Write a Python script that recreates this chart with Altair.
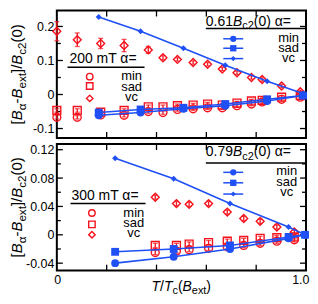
import altair as alt
import pandas as pd

# ---------------- data ----------------
# upper panel: 200 mT (red, open symbols) and 0.61 Bc2(0) (blue, lines)
x_200 = [0.0, 0.082, 0.176, 0.270, 0.367, 0.426, 0.484, 0.547, 0.605, 0.664, 0.723, 0.781, 0.824, 0.902, 0.977]
min_200 = [-0.067, -0.067, -0.060, -0.061, -0.050, -0.053, -0.044, -0.042, -0.039, -0.039, -0.033, -0.028, -0.022, -0.014, -0.008]
sad_200 = [-0.047, -0.047, -0.052, -0.047, -0.036, -0.036, -0.033, -0.031, -0.028, -0.031, -0.025, -0.019, -0.017, -0.008, -0.003]
vc_200 = [0.186, 0.161, 0.150, 0.144, 0.131, 0.108, 0.103, 0.094, 0.089, 0.075, 0.064, 0.050, 0.044, 0.025, 0.008]
err_vc_200 = [0.028, 0.020, 0.015, 0.018, 0.010, 0.006, 0.005, 0.005, 0.005, 0.005, 0.005, 0.005, 0.005, 0.005, 0.005]
err_200 = [0.005, 0.005, 0.005, 0.005, 0.005, 0.005, 0.005, 0.005, 0.005, 0.005, 0.005, 0.005, 0.005, 0.005, 0.005]

x_061 = [0.168, 0.336, 0.508, 0.676, 0.844, 0.988]
min_061 = [-0.061, -0.053, -0.042, -0.033, -0.019, -0.003]
sad_061 = [-0.053, -0.044, -0.039, -0.028, -0.014, -0.003]
vc_061 = [0.228, 0.186, 0.136, 0.086, 0.039, 0.003]

# lower panel: 300 mT (red) and 0.79 Bc2(0) (blue)
x_300 = [0.395, 0.480, 0.531, 0.609, 0.684, 0.750, 0.816, 0.883, 0.953]
min_300 = [-0.025, -0.023, -0.021, -0.019, -0.017, -0.015, -0.012, -0.009, -0.007]
sad_300 = [-0.015, -0.015, -0.013, -0.011, -0.009, -0.008, -0.005, -0.004, -0.003]
vc_300 = [0.053, 0.044, 0.043, 0.044, 0.032, 0.023, 0.019, 0.011, 0.004]
err_300 = [0.003, 0.003, 0.003, 0.003, 0.003, 0.003, 0.003, 0.003, 0.003]

x_079 = [0.234, 0.469, 0.695, 0.930, 0.996]
min_079 = [-0.040, -0.031, -0.020, -0.005, 0.0]
sad_079 = [-0.024, -0.020, -0.015, -0.003, 0.0]
vc_079 = [0.108, 0.079, 0.044, 0.011, 0.0]

series = ["min", "sad", "vc"]
top_major = [-0.1, 0.0, 0.1, 0.2]
top_minor = [-0.05, 0.05, 0.15]
bot_major = [-0.04, 0.0, 0.04, 0.08, 0.12]
bot_minor = [-0.02, 0.02, 0.06, 0.10]
x_major = [0.2, 0.4, 0.6, 0.8]
x_labels = [0, 1]

# ---------------- style ----------------
FONT = "Liberation Sans"
RED = "#f4121c"
BLUE = "#1f50f5"
W = 250
H1 = 128
H2 = 127
TITLE_SIZE = 15

CW = {" ": 278, "[": 278, "]": 278, "/": 278, "(": 333, ")": 333, "-": 333, "=": 584,
      ".": 278, "B": 667, "T": 611, "m": 833, "e": 556, "x": 500, "t": 278, "c": 500,
      "α": 578, "i": 222, "n": 556, "s": 500, "a": 556, "d": 556, "v": 500}


def tw(s, size):
    return sum(CW.get(c, 556) for c in s) * size / 1000.0


one = pd.DataFrame({"d": [0]})


def rich_len(parts, size):
    return sum(tw(t, size * 0.78 if st == "sub" else size) for t, st in parts)


def rich(parts, x0, y0, size, angle=0):
    layers = []
    pos = 0.0
    for txt, st in parts:
        fs = size * 0.78 if st == "sub" else size
        shift = size * 0.27 if st == "sub" else 0.0
        if angle == 0:
            x, y = x0 + pos, y0 + shift
        else:
            x, y = x0 + shift, y0 - pos
        layers.append(
            alt.Chart(one).mark_text(
                text=txt, align="left", baseline="alphabetic", font=FONT, fontSize=fs,
                fontStyle="italic" if st == "i" else "normal", angle=angle, color="black",
            ).encode(x=alt.value(x), y=alt.value(y))
        )
        pos += tw(txt, fs)
    return layers


def red_df(x, mn, sd, vc, e_mn, e_sd, e_vc):
    rows = []
    for name, ys, es in (("min", mn, e_mn), ("sad", sd, e_sd), ("vc", vc, e_vc)):
        for xi, yi, ei in zip(x, ys, es):
            rows.append({"x": xi, "y": yi, "lo": yi - ei, "hi": yi + ei, "s": name})
    return pd.DataFrame(rows)


def blue_df(x, mn, sd, vc):
    rows = []
    for name, ys in (("min", mn), ("sad", sd), ("vc", vc)):
        for xi, yi in zip(x, ys):
            rows.append({"x": xi, "y": yi, "s": name})
    return pd.DataFrame(rows)


SHAPES = alt.Scale(domain=series, range=["circle", "square", "diamond"])


def panel(H, ydom, ymaj, ymin_, show_x, rdf, bdf, red_head, blue_head, L):
    xs = alt.Scale(domain=[0, 1], nice=False, zero=False)
    ys = alt.Scale(domain=ydom, nice=False, zero=False)
    if show_x:
        xaxis = alt.Axis(values=x_labels, labelExpr="datum.value == 1 ? '1.0' : '0'", ticks=False,
                         domain=False, grid=False, labelPadding=3, labelFlush=True, labelFlushOffset=3,
                         title=None, labelFontSize=12.5, labelFont=FONT)
    else:
        xaxis = None
    yaxis = alt.Axis(values=ymaj, ticks=False, domain=False, grid=False, labelPadding=3, title=None,
                     labelExpr="datum.value < 0 ? '-' + format(-datum.value, '~g') : format(datum.value, '~g')",
                     labelFontSize=12.5, labelFont=FONT)

    def X(f):
        return alt.X(f, type="quantitative", scale=xs, axis=xaxis)

    def Y(f):
        return alt.Y(f, type="quantitative", scale=ys, axis=yaxis)

    layers = []
    # inward ticks on all four sides
    for vals, ln in ((ymaj, 6), (ymin_, 4)):
        d = pd.DataFrame({"v": vals})
        layers.append(alt.Chart(d).mark_rule(color="black", strokeWidth=1.3).encode(
            y=Y("v"), x=alt.value(0), x2=alt.value(ln)))
        layers.append(alt.Chart(d).mark_rule(color="black", strokeWidth=1.3).encode(
            y=Y("v"), x=alt.value(W - ln), x2=alt.value(W)))
    dx = pd.DataFrame({"v": x_major})
    layers.append(alt.Chart(dx).mark_rule(color="black", strokeWidth=1.3).encode(
        x=X("v"), y=alt.value(H), y2=alt.value(H - 6)))
    layers.append(alt.Chart(dx).mark_rule(color="black", strokeWidth=1.3).encode(
        x=X("v"), y=alt.value(0), y2=alt.value(6)))

    # red data with error bars
    layers.append(alt.Chart(rdf).mark_rule(color=RED, strokeWidth=1.3).encode(
        x=X("x"), y=Y("lo"), y2="hi"))
    for col in ("lo", "hi"):
        layers.append(alt.Chart(rdf).mark_tick(color=RED, orient="horizontal", size=5, thickness=1.3).encode(
            x=X("x"), y=Y(col)))
    layers.append(alt.Chart(rdf).mark_point(filled=False, color=RED, size=62, strokeWidth=1.4, opacity=1).encode(
        x=X("x"), y=Y("y"), shape=alt.Shape("s:N", scale=SHAPES, legend=None)))

    # blue lines
    layers.append(alt.Chart(bdf).mark_line(color=BLUE, strokeWidth=1.6).encode(
        x=X("x"), y=Y("y"), detail="s:N"))
    for name, shp, sz in (("min", "circle", 62), ("sad", "square", 62), ("vc", "diamond", 36)):
        layers.append(alt.Chart(bdf[bdf.s == name]).mark_point(
            filled=True, color=BLUE, shape=shp, size=sz, opacity=1).encode(x=X("x"), y=Y("y")))

    # ---- red legend ----
    layers += rich(red_head, L["rh_x"], L["rh_y"], 14)
    layers.append(alt.Chart(one).mark_rule(color="black", strokeWidth=1.5).encode(
        x=alt.value(L["ru"][0]), x2=alt.value(L["ru"][1]), y=alt.value(L["ru"][2])))
    for shp, yy, lab, ty in zip(["circle", "square", "diamond"], L["rm_y"], series, L["rt_y"]):
        layers.append(alt.Chart(one).mark_point(shape=shp, filled=False, color=RED, size=42, strokeWidth=1.4,
                                                opacity=1).encode(x=alt.value(L["rm_x"]), y=alt.value(yy)))
        layers.append(alt.Chart(one).mark_text(text=lab, font=FONT, fontSize=13, align="center",
                                               baseline="alphabetic", color="black").encode(
            x=alt.value(L["rt_x"]), y=alt.value(ty)))

    # ---- blue legend ----
    layers += rich(blue_head, L["bh_x"], L["bh_y"], 14)
    layers.append(alt.Chart(one).mark_rule(color="black", strokeWidth=1.5).encode(
        x=alt.value(L["bu"][0]), x2=alt.value(L["bu"][1]), y=alt.value(L["bu"][2])))
    for (shp, sz), yy, lab, ty in zip([("circle", 40), ("square", 40), ("diamond", 26)], L["bm_y"], series, L["bt_y"]):
        layers.append(alt.Chart(one).mark_rule(color=BLUE, strokeWidth=1.5).encode(
            x=alt.value(L["bl"][0]), x2=alt.value(L["bl"][1]), y=alt.value(yy)))
        layers.append(alt.Chart(one).mark_point(shape=shp, filled=True, color=BLUE, size=sz, opacity=1).encode(
            x=alt.value((L["bl"][0] + L["bl"][1]) / 2), y=alt.value(yy)))
        layers.append(alt.Chart(one).mark_text(text=lab, font=FONT, fontSize=13, align="center",
                                               baseline="alphabetic", color="black").encode(
            x=alt.value(L["bt_x"]), y=alt.value(ty)))

    # ---- y title with subscripts ----
    ytitle = [("[", "n"), ("B", "i"), ("α", "sub"), ("-", "n"), ("B", "i"), ("ext", "sub"),
              ("]/", "n"), ("B", "i"), ("c2", "sub"), ("(0)", "n")]
    ln = rich_len(ytitle, TITLE_SIZE)
    layers += rich(ytitle, -35, H / 2 + ln / 2, TITLE_SIZE, angle=270)

    if show_x:
        xtitle = [("T", "i"), ("/", "n"), ("T", "i"), ("c", "sub"), ("(", "n"), ("B", "i"),
                  ("ext", "sub"), (")", "n")]
        layers += rich(xtitle, 95, H + 20, 14)

    return alt.layer(*layers).properties(width=W, height=H)


top = panel(
    H1, [-0.128, 0.247], top_major, top_minor, False,
    red_df(x_200, min_200, sad_200, vc_200, err_200, err_200, err_vc_200),
    blue_df(x_061, min_061, sad_061, vc_061),
    [("200 mT   α=", "n")],
    [("0.61", "n"), ("B", "i"), ("c2", "sub"), ("(0)   α=", "n")],
    dict(rh_x=12.7, rh_y=53, ru=(10.7, 88, 57), rm_x=33, rm_y=[66.4, 75.8, 88.2], rt_x=75, rt_y=[70.2, 80.6, 90.5],
         bh_x=149.5, bh_y=15.2, bu=(149.5, 250, 18), bl=(167, 187), bm_y=[28.4, 37.9, 48.3], bt_x=232.5,
         bt_y=[31.3, 41.2, 52.1]),
)

bottom = panel(
    H2, [-0.0505, 0.128], bot_major, bot_minor, True,
    red_df(x_300, min_300, sad_300, vc_300, err_300, err_300, err_300),
    blue_df(x_079, min_079, sad_079, vc_079),
    [("300 mT   α=", "n")],
    [("0.79", "n"), ("B", "i"), ("c2", "sub"), ("(0)   α=", "n")],
    dict(rh_x=14.7, rh_y=55.9, ru=(13.7, 89, 59.7), rm_x=35.2, rm_y=[69.2, 80.6, 91], rt_x=77.2,
         rt_y=[73, 83.4, 93], bh_x=149.5, bh_y=12.3, bu=(149.5, 250, 19), bl=(167, 187),
         bm_y=[28.4, 38.9, 50.2], bt_x=230.6, bt_y=[31.3, 41.7, 52.1]),
)

chart = alt.vconcat(top, bottom, spacing=2).properties(padding=0).configure_view(
    stroke="black", strokeWidth=2
).configure_axis(labelColor="black")

chart.save("out.html", embed_options={"renderer": "svg", "actions": False})
